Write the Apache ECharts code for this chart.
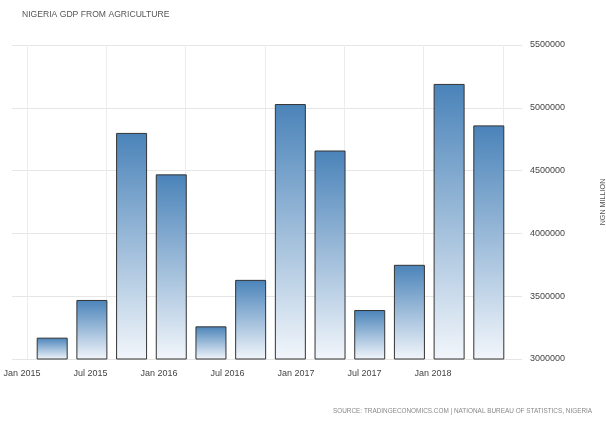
<!DOCTYPE html>
<html><head><meta charset="utf-8">
<script src="https://cdn.jsdelivr.net/npm/echarts@6/dist/echarts.min.js"></script>
<style>html,body{margin:0;padding:0;background:#fff}#c{width:606px;height:423px}</style>
</head><body><div id="c"></div>
<script>
const quarters = ['2015Q1','2015Q2','2015Q3','2015Q4','2016Q1','2016Q2','2016Q3','2016Q4','2017Q1','2017Q2','2017Q3','2017Q4'];
const gdpAgriculture = [3170000,3470000,4800000,4470000,3260000,3630000,5030000,4660000,3390000,3750000,5190000,4860000];
const dateLabels = ['Jan 2015','Jul 2015','Jan 2016','Jul 2016','Jan 2017','Jul 2017','Jan 2018'];
const yMin = 3000000, yMax = 5500000, yStep = 500000;
const titleText = 'NIGERIA GDP FROM AGRICULTURE';
const sourceText = 'SOURCE: TRADINGECONOMICS.COM | NATIONAL BUREAU OF STATISTICS, NIGERIA';
const unitText = 'NGN MILLION';

const FONT = '"Liberation Sans", Arial, sans-serif';
const chart = echarts.init(document.getElementById('c'), null, {renderer:'canvas'});
const gTop = 45, gBottom = 64;
const g = (left, right) => ({left, right, top:gTop, bottom:gBottom, containLabel:false, outerBoundsMode:'none'});
chart.setOption({
  animation:false,
  backgroundColor:'#fff',
  title:[
    {text:titleText,left:17,top:5,padding:5,textStyle:{fontFamily:FONT,fontSize:8.6,fontWeight:'normal',color:'#555'}},
    {text:sourceText,left:328,top:403,padding:5,textStyle:{fontFamily:FONT,fontSize:6.4,fontWeight:'normal',color:'#888'}}
  ],
  grid:[g(32.35,97.35), g(12,84), g(27,103), g(22,173)],
  xAxis:[
    {gridIndex:0,type:'category',data:quarters,show:false},
    {gridIndex:1,type:'value',show:false},
    {gridIndex:2,type:'value',min:0,max:dateLabels.length-1,interval:1,
     axisLine:{show:false},axisTick:{show:false},axisLabel:{show:false},
     splitLine:{show:true,lineStyle:{color:'#ececec',width:1}}},
    {gridIndex:3,type:'category',data:dateLabels,boundaryGap:false,
     axisLine:{show:false},axisTick:{show:false},
     axisLabel:{margin:10,fontFamily:FONT,fontSize:9,color:'#444'},splitLine:{show:false}}
  ],
  yAxis:[
    {gridIndex:0,type:'value',min:yMin,max:yMax,interval:yStep,show:false},
    {gridIndex:1,type:'value',min:yMin,max:yMax,interval:yStep,position:'right',
     axisLine:{show:false},axisTick:{show:false},
     axisLabel:{margin:8,fontFamily:FONT,fontSize:9,color:'#444',formatter:v=>String(v)},
     splitLine:{show:true,lineStyle:{color:'#e6e6e6',width:1}},
     name:unitText,nameLocation:'middle',nameRotate:90,nameGap:78,
     nameTextStyle:{fontFamily:FONT,fontSize:7.2,color:'#555'}},
    {gridIndex:2,type:'value',min:yMin,max:yMax,show:false},
    {gridIndex:3,type:'value',min:yMin,max:yMax,show:false}
  ],
  series:[{
    type:'bar',xAxisIndex:0,yAxisIndex:0,data:gdpAgriculture,barWidth:31,z:5,
    itemStyle:{
      color:new echarts.graphic.LinearGradient(0,0,0,1,[{offset:0,color:'#4a83b9'},{offset:1,color:'#f2f6fb'}]),
      borderColor:'#333',borderWidth:1
    }
  }]
});
</script></body></html>
